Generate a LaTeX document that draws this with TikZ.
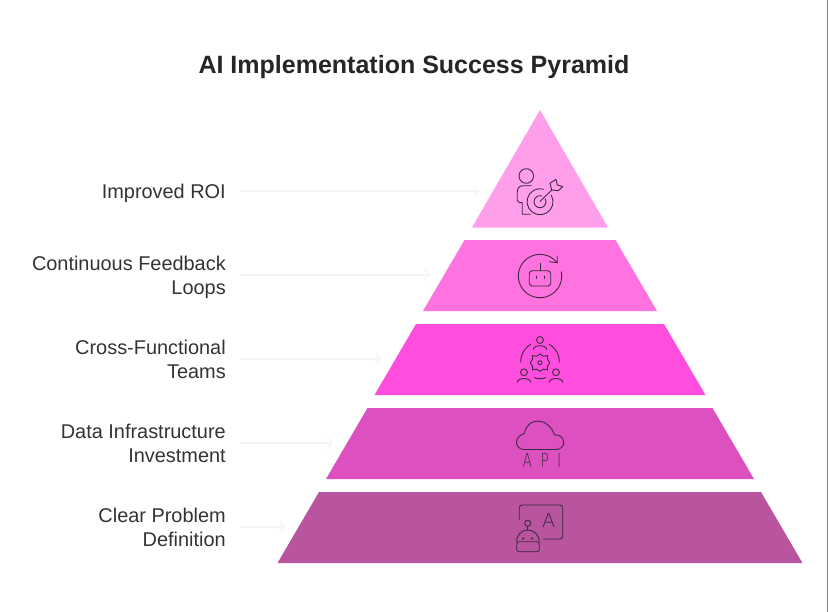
\documentclass[tikz,border=0pt]{standalone}
\usepackage{fontspec}
\setmainfont{Liberation Sans}
\newfontfamily\apifont[LetterSpace=43,FakeStretch=0.72]{DejaVu Sans ExtraLight}
\newfontfamily\thinfont{DejaVu Sans ExtraLight}
\usetikzlibrary{arrows.meta}

\definecolor{tierone}{HTML}{FF9FEC}
\definecolor{tiertwo}{HTML}{FF73E1}
\definecolor{tierthree}{HTML}{FF4EDD}
\definecolor{tierfour}{HTML}{DD50C0}
\definecolor{tierfive}{HTML}{B9549F}
\definecolor{inkdark}{HTML}{3A2A3C}
\definecolor{labelgray}{HTML}{333333}
\definecolor{leadergray}{HTML}{F5F5F5}

\tikzset{
    tierlabel/.style={anchor=east, align=right, inner sep=0pt, text=labelgray, font=\fontsize{17pt}{20.5pt}\selectfont},
    leader/.style={draw=leadergray, line width=0.9pt, -{Straight Barb[length=4pt, width=9pt]}},
    iconline/.style={draw=inkdark, line width=0.75pt, line cap=round, line join=round}
}

\begin{document}
\begin{tikzpicture}[x=0.03cm, y=-0.03cm]
        \useasboundingbox (0, 0) rectangle (828, 612);
        \fill[white] (0, 0) rectangle (828, 612);
        \draw[gray, line width=0.8pt] (827.5, 0) -- (827.5, 612);

        \node[font=\bfseries\fontsize{21.35pt}{24pt}\selectfont, text=black!85] (title) at (414, 67) {AI Implementation Success Pyramid};

        % pyramid tiers
        \fill[tierone] (540, 110) -- (608, 227.5) -- (472, 227.5) -- cycle;
        \fill[tiertwo] (464.5, 240) -- (615.5, 240) -- (657, 311) -- (423, 311) -- cycle;
        \fill[tierthree] (416, 324) -- (664, 324) -- (705.5, 395) -- (374.5, 395) -- cycle;
        \fill[tierfour] (367.5, 408) -- (712.5, 408) -- (754, 479) -- (326, 479) -- cycle;
        \fill[tierfive] (319, 492) -- (761, 492) -- (802.5, 563) -- (277.5, 563) -- cycle;

        % labels
        \node[tierlabel] (roi) at (226, 193) {Improved ROI};
        \node[tierlabel] (feedback) at (226, 277) {Continuous Feedback\\Loops};
        \node[tierlabel] (teams) at (226, 359) {Cross-Functional\\Teams};
        \node[tierlabel] (infra) at (226, 443) {Data Infrastructure\\Investment};
        \node[tierlabel] (problem) at (226, 527) {Clear Problem\\Definition};

        % leaders
        \coordinate (roistart) at (240, 191);
        \coordinate (roitip) at (479, 191);
        \coordinate (feedbackstart) at (240, 275);
        \coordinate (feedbacktip) at (430, 275);
        \coordinate (teamsstart) at (240, 359);
        \coordinate (teamstip) at (381, 359);
        \coordinate (infrastart) at (240, 443);
        \coordinate (infratip) at (333, 443);
        \coordinate (problemstart) at (240, 527);
        \coordinate (problemtip) at (285, 527);
        \draw[leader] (roistart) -- (roitip);
        \draw[leader] (feedbackstart) -- (feedbacktip);
        \draw[leader] (teamsstart) -- (teamstip);
        \draw[leader] (infrastart) -- (infratip);
        \draw[leader] (problemstart) -- (problemtip);

        % person and target
        \draw[iconline] (526.3, 176) circle (7.3);
        \draw[iconline] (531.5, 185.7) -- (523, 185.7) .. controls (519, 185.7) and (517.3, 188.5) .. (517.3, 192) -- (517.3, 200) .. controls (517.3, 202) and (519, 202.7) .. (522.3, 202.7) -- (522.3, 214.3) -- (530.5, 214.3);
        \draw[iconline] (551.3, 195.2) arc (-30:285:13);
        \draw[iconline] (545.2, 198.7) arc (-30:285:6);
        \draw[iconline] (540, 201.5) -- (551.7, 190);
        \draw[iconline] (551.7, 190) -- (550, 183.3) -- (556, 179.3) -- (557.3, 185) -- (562.7, 186.7) -- (558.3, 190.7) -- cycle;

        % robot in loop
        \draw[iconline] (557.2, 262.8) arc (-37.6:-371:21.7);
        \draw[iconline] (549.3, 261.7) -- (557.3, 262.7) -- (557.3, 256);
        \draw[iconline, rounded corners=2.5] (529.3, 270.7) rectangle (550.7, 286);
        \draw[iconline] (540, 263.3) -- (540, 270.7);
        \draw[iconline] (536, 276) -- (536, 278.5);
        \draw[iconline] (544, 276) -- (544, 278.5);

        % team around gear
        \draw[iconline] (540, 340) circle (3.4);
        \draw[iconline] (533.3, 349.5) .. controls (533.3, 344.5) and (546.7, 344.5) .. (546.7, 349.5);
        \draw[iconline] (520.7, 362.3) .. controls (520.7, 354) and (525, 347.5) .. (530.7, 344.3);
        \draw[iconline] (559.3, 362.3) .. controls (559.3, 354) and (555, 347.5) .. (549.3, 344.3);
        \draw[iconline] (534, 377.7) .. controls (538, 379) and (542, 379) .. (546, 377.7);
        \draw[iconline] (524, 372.3) circle (3.4);
        \draw[iconline] (517.3, 382.3) .. controls (517.3, 377.3) and (530.7, 377.3) .. (530.7, 382.3);
        \draw[iconline] (556, 372.3) circle (3.4);
        \draw[iconline] (549.3, 382.3) .. controls (549.3, 377.3) and (562.7, 377.3) .. (562.7, 382.3);
        \draw[iconline] (540, 354) -- (543.5, 356.3) -- (547.5, 355.5) -- (547.7, 359.7) -- (549.8, 362.7) -- (547.7, 365.7) -- (547.5, 369.9) -- (543.5, 369.1) -- (540, 371.4) -- (536.5, 369.1) -- (532.5, 369.9) -- (532.3, 365.7) -- (530.2, 362.7) -- (532.3, 359.7) -- (532.5, 355.5) -- (536.5, 356.3) -- cycle;
        \draw[iconline] (540, 362.7) circle (2);

        % cloud with api
        \draw[iconline] (524, 449.5) -- (556, 449.5) .. controls (561, 449.5) and (563.7, 446) .. (563.7, 442.5) .. controls (563.7, 437.5) and (559.5, 434.5) .. (554.5, 435) .. controls (552, 427) and (545, 421) .. (538, 421) .. controls (531, 421) and (525.5, 426) .. (524.5, 433.5) .. controls (520, 434.5) and (516.5, 438) .. (516.5, 442.5) .. controls (516.5, 446.5) and (520, 449.5) .. (524, 449.5);
        \node[text=inkdark, font=\apifont\fontsize{16.5pt}{18pt}\selectfont, inner sep=0pt] (api) at (542, 460) {API};

        % board and robot
        \draw[iconline, rounded corners=2.5] (519.3, 520) -- (519.3, 505) -- (562.7, 505) -- (562.7, 539) -- (543.3, 539);
        \node[text=inkdark, font=\thinfont\fontsize{16.5pt}{18pt}\selectfont, inner sep=0pt] (letter) at (548.7, 520) {A};
        \draw[iconline] (527.7, 523.3) circle (3);
        \draw[iconline] (527.7, 526.3) -- (527.7, 530);
        \draw[iconline] (516.7, 541.7) .. controls (516.7, 534.5) and (522, 530) .. (527.7, 530) .. controls (533.5, 530) and (539.3, 534.5) .. (539.3, 541.7);
        \draw[iconline, rounded corners=2] (516.7, 541.7) rectangle (539.3, 551.7);
        \draw[iconline] (522.5, 538) -- (524, 539);
        \draw[iconline] (522.5, 539) -- (524, 538);
        \draw[iconline] (531.5, 538) -- (533, 539);
        \draw[iconline] (531.5, 539) -- (533, 538);
    \end{tikzpicture}
\end{document}
